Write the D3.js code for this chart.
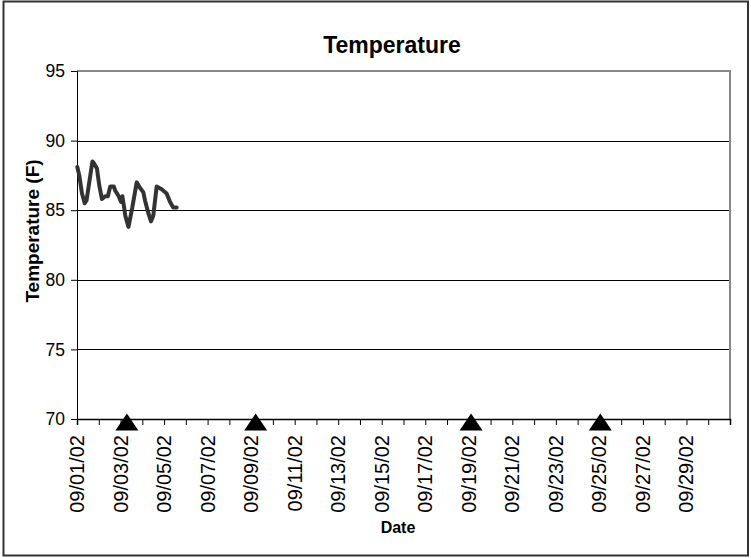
<!DOCTYPE html>
<html>
<head>
<meta charset="utf-8">
<script src="https://cdn.jsdelivr.net/npm/d3@7"></script>
<style>
  body { margin: 0; background: #fff; }
  text { font-family: Arial, "Liberation Sans", sans-serif; fill: #000; }
</style>
</head>
<body>
<svg id="chart" width="751" height="558"></svg>
<script>
// temperature readings (date/time, deg F)
const times = ["09/01/02 00:20", "09/01/02 02:30", "09/01/02 05:30", "09/01/02 08:30", "09/01/02 10:30",
    "09/01/02 13:30", "09/01/02 17:00", "09/01/02 18:30", "09/01/02 22:00", "09/02/02 00:30",
    "09/02/02 03:30", "09/02/02 07:10", "09/02/02 10:00", "09/02/02 12:40", "09/02/02 16:30",
    "09/02/02 18:15", "09/02/02 22:00", "09/03/02 00:30", "09/03/02 02:00", "09/03/02 03:30",
    "09/03/02 05:15", "09/03/02 08:45", "09/03/02 13:00", "09/03/02 17:50", "09/03/02 21:30",
    "09/04/02 01:05", "09/04/02 03:00", "09/04/02 06:35", "09/04/02 09:35", "09/04/02 12:05",
    "09/04/02 15:50", "09/04/02 21:20", "09/05/02 02:50", "09/05/02 06:30", "09/05/02 10:05",
    "09/05/02 13:55"];
const temps = [88.1, 87.5, 86.2, 85.5, 85.7,
    87.0, 88.5, 88.4, 88.0, 86.8,
    85.8, 86.0, 86.0, 86.7, 86.7,
    86.4, 86.0, 85.6, 86.0, 85.4,
    84.6, 83.8, 85.2, 87.0, 86.6,
    86.3, 85.7, 84.8, 84.2, 84.6,
    86.7, 86.5, 86.2, 85.6, 85.2,
    85.2];

// event markers sitting on the axis
const markerTimes = ["09/03/02 07:00", "09/09/02 05:00", "09/19/02 02:30", "09/25/02 01:00"];
const markerValues = [70, 70, 70, 70];

const yTicks = [70, 75, 80, 85, 90, 95];
const xLabelDays = ["09/01/02", "09/03/02", "09/05/02", "09/07/02", "09/09/02", "09/11/02", "09/13/02",
    "09/15/02", "09/17/02", "09/19/02", "09/21/02", "09/23/02", "09/25/02", "09/27/02", "09/29/02"];
const xDomain = ["09/01/02", "10/01/02"];

const parseTime = d3.timeParse("%m/%d/%y %H:%M");
const parseDay = d3.timeParse("%m/%d/%y");
const fmt = d3.timeFormat("%m/%d/%y");

const plotLeft = 77, plotRight = 730, plotTop = 71, plotBottom = 419;

const svg = d3.select("#chart");

// outer frame
svg.append("rect")
    .attr("x", 3.5).attr("y", 1.5)
    .attr("width", 744.5).attr("height", 554)
    .attr("fill", "none")
    .attr("stroke", "#333")
    .attr("stroke-width", 2);

const x = d3.scaleTime()
    .domain(xDomain.map(parseDay))
    .range([plotLeft, plotRight]);

const y = d3.scaleLinear()
    .domain([70, 95])
    .range([plotBottom, plotTop]);

// gridlines
svg.append("g")
    .selectAll("line")
    .data(yTicks.filter(d => d > 70 && d < 95))
    .join("line")
    .attr("x1", plotLeft).attr("x2", plotRight)
    .attr("y1", d => Math.round(y(d)) + 0.5)
    .attr("y2", d => Math.round(y(d)) + 0.5)
    .attr("stroke", "#000")
    .attr("stroke-width", 1);

// plot area top / right border
svg.append("path")
    .attr("d", `M${plotLeft},${y(95)}H${plotRight}V${plotBottom}`)
    .attr("fill", "none")
    .attr("stroke", "#888")
    .attr("stroke-width", 2);

// y axis
const yAxis = svg.append("g")
    .attr("transform", `translate(${plotLeft},0)`)
    .call(d3.axisLeft(y).tickValues(yTicks).tickSize(6).tickPadding(6));
yAxis.select(".domain").attr("stroke", "#000");
yAxis.selectAll("text").style("font-size", "17.5px");

// x axis, a tick each day, labels every other day
const xAxis = svg.append("g")
    .attr("transform", `translate(0,${plotBottom})`)
    .call(d3.axisBottom(x).ticks(d3.timeDay.every(1)).tickSize(6).tickFormat(""));
xAxis.select(".domain").attr("stroke", "#000").attr("stroke-width", 1.5);

svg.append("g")
    .selectAll("text")
    .data(xLabelDays.map(parseDay))
    .join("text")
    .attr("transform", d => `translate(${x(d)},${plotBottom + 16}) rotate(-90)`)
    .attr("text-anchor", "end")
    .attr("dy", "0.35em")
    .style("font-size", "20px")
    .text(d => fmt(d));

// temperature line
const series = times.map((t, i) => ({date: parseTime(t), value: temps[i]}));
svg.append("path")
    .datum(series)
    .attr("fill", "none")
    .attr("stroke", "#333")
    .attr("stroke-width", 4)
    .attr("stroke-linejoin", "round")
    .attr("stroke-linecap", "round")
    .attr("d", d3.line()
        .x(d => x(d.date))
        .y(d => y(d.value)));

// triangle markers
const triW = 23, triH = 17;
svg.append("g")
    .selectAll("path")
    .data(markerTimes.map((t, i) => ({date: parseTime(t), value: markerValues[i]})))
    .join("path")
    .attr("transform", d => `translate(${x(d.date)},${y(d.value) + 3})`)
    .attr("d", `M0,${-triH / 2}L${triW / 2},${triH / 2}L${-triW / 2},${triH / 2}Z`)
    .attr("fill", "#000");

// titles
svg.append("text")
    .attr("x", 392).attr("y", 53)
    .attr("text-anchor", "middle")
    .style("font-size", "23px")
    .style("font-weight", "bold")
    .text("Temperature");

svg.append("text")
    .attr("x", 398).attr("y", 533)
    .attr("text-anchor", "middle")
    .style("font-size", "16px")
    .style("font-weight", "bold")
    .text("Date");

svg.append("text")
    .attr("transform", "translate(39,231) rotate(-90)")
    .attr("text-anchor", "middle")
    .style("font-size", "19px")
    .style("font-weight", "bold")
    .text("Temperature (F)");
</script>
</body>
</html>
